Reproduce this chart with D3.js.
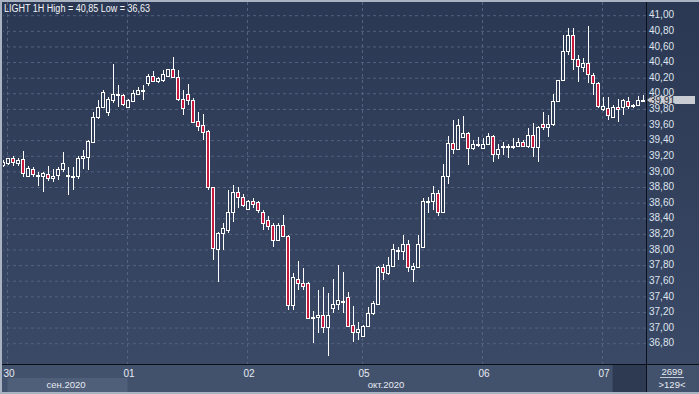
<!DOCTYPE html>
<html>
<head>
<meta charset="utf-8">
<script src="https://cdn.jsdelivr.net/npm/d3@7"></script>
<style>
  body { margin: 0; background: #aab3c2; }
  svg { display: block; font-family: "Liberation Sans", Arial, sans-serif; }
</style>
</head>
<body>
<div id="chart"></div>
<script>
// hourly candles, LIGHT 1H, 29.09 (last bar) .. 07.10.2020
var opens = [39.08,39.10,39.16,39.10,39.15,38.93,39.02,38.95,38.93,38.96,
  38.91,38.95,39.02,38.95,38.94,38.93,39.16,39.18,39.37,39.69,
  39.82,39.76,39.91,39.97,39.97,39.82,39.90,39.99,40.02,40.13,
  40.22,40.15,40.17,40.22,40.30,40.20,39.92,39.99,39.91,39.64,
  39.59,39.51,38.79,38.00,38.20,38.24,38.48,38.73,38.66,38.51,
  38.61,38.60,38.48,38.37,38.31,38.11,38.31,38.17,37.28,37.62,
  37.57,37.57,37.12,37.13,37.16,37.00,37.25,37.30,37.34,37.38,
  37.03,36.94,36.89,37.01,37.18,37.30,37.77,37.69,37.78,37.99,
  37.97,38.07,37.75,37.77,38.03,38.61,38.62,38.72,38.48,38.93,
  39.36,39.28,39.44,39.48,39.29,39.34,39.29,39.34,39.45,39.22,
  39.31,39.32,39.31,39.32,39.37,39.32,39.46,39.30,39.60,39.56,
  39.60,39.90,40.17,40.53,40.74,40.43,40.33,40.38,40.23,40.12,
  39.79,39.81,39.69,39.82,39.82,39.90,39.84,39.84,39.91];
var highs = [39.14,39.17,39.19,39.17,39.26,39.06,39.05,38.99,38.98,39.06,
  39.03,39.05,39.24,39.05,39.05,39.19,39.27,39.40,39.75,39.91,
  40.03,39.94,40.37,40.10,39.98,39.92,40.03,40.07,40.10,40.24,
  40.28,40.20,40.29,40.31,40.46,40.29,40.04,40.11,39.93,39.76,
  39.73,39.52,38.80,38.22,38.33,38.76,38.82,38.79,38.70,38.63,
  38.65,38.62,38.50,38.42,38.33,38.33,38.44,38.18,37.69,37.85,
  37.76,37.58,37.20,37.47,37.51,37.44,37.61,37.79,37.71,37.45,
  37.27,37.07,37.03,37.26,37.33,37.78,37.81,37.90,38.06,38.03,
  38.18,38.11,37.82,38.18,38.65,38.67,38.81,38.76,39.09,39.45,
  39.65,39.66,39.70,39.50,39.40,39.43,39.42,39.48,39.46,39.35,
  39.37,39.34,39.42,39.42,39.39,39.55,39.61,39.57,39.76,39.72,
  39.99,40.17,40.74,40.83,40.83,40.48,40.45,40.85,40.25,40.14,
  39.95,39.94,39.84,39.92,39.92,39.94,39.86,39.96,39.97];
var lows = [39.05,39.08,39.06,39.06,38.92,38.92,38.92,38.81,38.73,38.87,
  38.86,38.88,38.98,38.69,38.76,38.90,39.03,39.01,39.36,39.67,
  39.80,39.70,39.87,39.82,39.83,39.81,39.89,39.97,39.91,40.09,
  40.14,40.12,40.14,40.21,40.19,39.90,39.72,39.84,39.61,39.51,
  39.39,38.76,37.86,37.58,37.99,38.21,38.34,38.53,38.54,38.50,
  38.53,38.46,38.24,38.24,38.03,38.11,38.16,37.22,37.22,37.47,
  37.47,37.10,36.80,36.92,36.92,36.63,37.18,37.22,37.18,37.00,
  36.81,36.84,36.88,37.00,37.16,37.29,37.60,37.67,37.77,37.86,
  37.86,37.70,37.58,37.77,38.02,38.46,38.50,38.42,38.48,38.83,
  39.22,39.27,39.42,39.08,39.27,39.31,39.28,39.33,39.11,39.15,
  39.20,39.17,39.28,39.30,39.30,39.29,39.18,39.12,39.52,39.44,
  39.57,39.89,40.16,40.49,40.29,40.14,40.27,40.12,39.97,39.80,
  39.77,39.65,39.68,39.62,39.72,39.79,39.81,39.83,39.89];
var closes = [39.12,39.16,39.11,39.14,38.97,39.04,38.96,38.94,38.97,38.91,
  38.94,39.02,39.10,38.94,38.94,39.17,39.19,39.38,39.69,39.82,
  40.01,39.92,39.98,39.98,39.86,39.91,40.00,40.04,40.03,40.22,
  40.15,40.19,40.24,40.30,40.20,39.92,39.80,39.91,39.63,39.58,
  39.50,38.79,38.01,38.21,38.27,38.48,38.73,38.67,38.56,38.61,
  38.58,38.50,38.33,38.30,38.11,38.31,38.17,37.28,37.64,37.57,
  37.53,37.11,37.13,37.16,37.00,37.16,37.30,37.35,37.34,37.02,
  36.94,36.98,37.01,37.18,37.31,37.77,37.70,37.80,38.00,37.98,
  38.07,37.77,37.78,38.06,38.61,38.62,38.72,38.48,38.93,39.36,
  39.28,39.59,39.48,39.29,39.35,39.35,39.34,39.45,39.22,39.28,
  39.32,39.32,39.32,39.37,39.32,39.46,39.30,39.56,39.56,39.60,
  39.90,40.16,40.53,40.74,40.43,40.34,40.38,40.24,40.13,39.83,
  39.83,39.71,39.82,39.79,39.91,39.83,39.83,39.91,39.91];

// first bar of each trading day
var dayStarts = [1, 25, 49, 72, 96, 120];
var dayLabels = ["30", "01", "02", "05", "06", "07"];
var monthStarts = [1, 25];
var monthLabels = ["сен.2020", "окт.2020"];
var yTicks = [36.8, 37.0, 37.2, 37.4, 37.6, 37.8, 38.0, 38.2, 38.4, 38.6, 38.8,
  39.0, 39.2, 39.4, 39.6, 39.8, 40.0, 40.2, 40.4, 40.6, 40.8, 41.0];
var lastPrice = 39.91;
var title = "LIGHT 1H High = 40,85 Low = 36,63";
var barsTotal = "2699", barsVisible = ">129<";

var W = 699, H = 394;
var plotL = 2, plotR = 646, plotT = 2, plotB = 364;

var svg = d3.select("#chart").append("svg")
    .attr("width", W)
    .attr("height", H);

var defs = svg.append("defs");
var grad = defs.append("linearGradient").attr("id", "bg").attr("x1", 0).attr("y1", 0).attr("x2", 0).attr("y2", 1);
grad.append("stop").attr("offset", "0%").attr("stop-color", "#2b3853");
grad.append("stop").attr("offset", "100%").attr("stop-color", "#3a4966");
defs.append("clipPath").attr("id", "plotclip")
  .append("rect").attr("x", 3).attr("y", plotT).attr("width", plotR - 3).attr("height", plotB - plotT);

// frame and panels
svg.append("rect").attr("width", W).attr("height", H).attr("fill", "#aab3c2");
svg.append("rect").attr("x", plotL).attr("y", plotT).attr("width", W - plotL).attr("height", plotB - plotT)
    .attr("fill", "url(#bg)");
svg.append("rect").attr("x", plotL).attr("y", plotB).attr("width", W - plotL).attr("height", 392 - plotB)
    .attr("fill", "#43526c");

var n = opens.length;
var x = d3.scaleBand()
    .domain(d3.range(n))
    .range([1, 1 + 5 * n]);

var y = d3.scaleLinear()
    .domain([36.8, 41])
    .range([342.7, 14.7]);

var fmt = function(d) { return d3.format(".2f")(d).replace(".", ","); };

// horizontal grid
svg.append("g")
    .attr("class", "grid")
    .attr("transform", "translate(" + plotR + ",0)")
    .call(d3.axisLeft(y).tickValues(yTicks).tickSize(plotR - 3).tickFormat(""))
    .call(function(g) {
        g.select(".domain").remove();
        g.selectAll("line").attr("stroke", "#52627f").attr("stroke-dasharray", "3,3")
            .attr("transform", "translate(0,0.5)");
    });

// vertical day grid
svg.append("g")
    .selectAll("line")
    .data(dayStarts)
    .enter().append("line")
    .attr("x1", function(d) { return x(d) + 1.5; })
    .attr("x2", function(d) { return x(d) + 1.5; })
    .attr("y1", plotT)
    .attr("y2", plotB)
    .attr("stroke", "#52627f")
    .attr("stroke-dasharray", "3,3");

// candles
var candles = svg.append("g").attr("clip-path", "url(#plotclip)")
    .selectAll("g")
    .data(d3.range(n))
    .enter().append("g");

candles.append("line")
    .attr("x1", function(i) { return x(i) + 2.5; })
    .attr("x2", function(i) { return x(i) + 2.5; })
    .attr("y1", function(i) { return Math.round(y(highs[i])); })
    .attr("y2", function(i) { return Math.round(y(lows[i])); })
    .attr("stroke", "#ffffff");

candles.append("rect")
    .attr("x", function(i) { return x(i) + 0.5; })
    .attr("width", 3)
    .attr("y", function(i) { return Math.round(y(Math.max(opens[i], closes[i]))) + 0.5; })
    .attr("height", function(i) {
        return Math.max(1, Math.round(y(Math.min(opens[i], closes[i]))) - Math.round(y(Math.max(opens[i], closes[i]))));
    })
    .attr("fill", function(i) { return closes[i] < opens[i] ? "#c8193f" : "#2f3d59"; })
    .attr("stroke", "#ffffff");

// right price axis
svg.append("g")
    .attr("transform", "translate(" + plotR + ",0)")
    .call(d3.axisRight(y).tickValues(yTicks).tickSize(0).tickPadding(3).tickFormat(fmt))
    .call(function(g) {
        g.select(".domain").remove();
        g.selectAll("text").attr("fill", "#dfe4ee").style("font-size", "10px")
            .style("font-family", "Liberation Sans, Arial, sans-serif");
    });

// last price marker
var ly = Math.round(y(lastPrice));
svg.append("path")
    .attr("d", "M" + (plotR + 1) + "," + ly + "L" + (plotR + 6) + "," + (ly - 4) + "L695," + (ly - 4) +
        "L695," + (ly + 4) + "L" + (plotR + 6) + "," + (ly + 4) + "Z")
    .attr("fill", "#c9ccd2");
svg.append("text")
    .attr("x", plotR + 4)
    .attr("y", ly + 4)
    .attr("fill", "#1d2638")
    .style("font-size", "10px")
    .text(fmt(lastPrice));

// separators
svg.append("line").attr("x1", plotR + 0.5).attr("x2", plotR + 0.5).attr("y1", plotT).attr("y2", 392)
    .attr("stroke", "#0b0f18");
svg.append("line").attr("x1", plotL).attr("x2", W).attr("y1", plotB + 0.5).attr("y2", plotB + 0.5)
    .attr("stroke", "#0b0f18");

// bottom time axis
svg.append("rect").attr("x", x(monthStarts[0]) + 1.5).attr("y", 378)
    .attr("width", x(monthStarts[1]) - x(monthStarts[0])).attr("height", 14)
    .attr("fill", "#4f5e79");
svg.append("rect").attr("x", 613).attr("y", 365).attr("width", plotR - 613).attr("height", 27)
    .attr("fill", "#2d3a52");
svg.append("line").attr("x1", 612.5).attr("x2", 612.5).attr("y1", 365).attr("y2", 392)
    .attr("stroke", "#394760");

svg.append("g")
    .selectAll("text")
    .data(dayStarts)
    .enter().append("text")
    .attr("x", function(d) { return x(d) - 2.5; })
    .attr("y", 376.5)
    .attr("fill", "#e6eaf2")
    .style("font-size", "10px")
    .text(function(d, i) { return dayLabels[i]; });

var monthEnds = [monthStarts[1], n];
svg.append("g")
    .selectAll("text")
    .data(monthStarts)
    .enter().append("text")
    .attr("x", function(d, i) { return (x(d) + Math.min(x(monthEnds[i] - 1) + 5, plotR)) / 2; })
    .attr("y", 387.5)
    .attr("text-anchor", "middle")
    .attr("fill", "#e6eaf2")
    .style("font-size", "9.5px")
    .text(function(d, i) { return monthLabels[i]; });

// bar counter
svg.append("text").attr("x", 672).attr("y", 375).attr("text-anchor", "middle")
    .attr("fill", "#e6eaf2").style("font-size", "9.5px").text(barsTotal);
svg.append("line").attr("x1", 660).attr("x2", 684).attr("y1", 377.5).attr("y2", 377.5)
    .attr("stroke", "#c5ccd8");
svg.append("text").attr("x", 672).attr("y", 388).attr("text-anchor", "middle")
    .attr("fill", "#e6eaf2").style("font-size", "9.5px").text(barsVisible);

// title
svg.append("text")
    .attr("x", 4)
    .attr("y", 12)
    .attr("fill", "#f2f4f8")
    .style("font-size", "10px")
    .attr("textLength", 146)
    .attr("lengthAdjust", "spacingAndGlyphs")
    .text(title);
</script>
</body>
</html>
